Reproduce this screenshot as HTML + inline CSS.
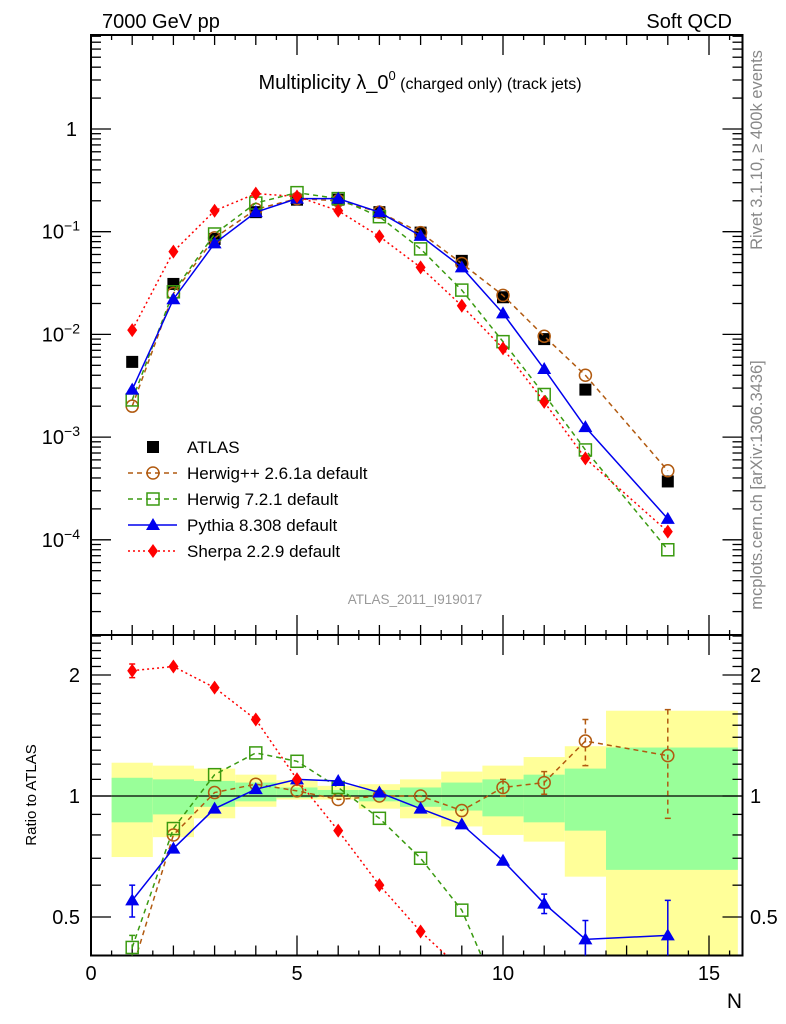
<!DOCTYPE html>
<html><head><meta charset="utf-8"><style>
html,body{margin:0;padding:0;background:#fff;width:786px;height:1024px;overflow:hidden}
svg{display:block;font-family:"Liberation Sans",sans-serif}
</style></head><body>
<svg id="c" width="786" height="1024" viewBox="0 0 786 1024">
<text x="102" y="28" font-size="20">7000 GeV pp</text>
<text x="732" y="28" font-size="20" text-anchor="end">Soft QCD</text>
<text x="420" y="89" font-size="20" text-anchor="middle">Multiplicity λ_0<tspan font-size="13" dy="-9">0</tspan><tspan font-size="16" dy="9"> (charged only) (track jets)</tspan></text>
<text transform="translate(762,150) rotate(-90)" font-size="16.5" fill="#888" text-anchor="middle">Rivet 3.1.10, ≥ 400k events</text>
<text transform="translate(762,485) rotate(-90)" font-size="16.5" fill="#888" text-anchor="middle">mcplots.cern.ch [arXiv:1306.3436]</text>
<text x="415" y="604" font-size="13.5" fill="#999" text-anchor="middle">ATLAS_2011_I919017</text>
<text transform="translate(36,795) rotate(-90)" font-size="15" text-anchor="middle">Ratio to ATLAS</text>
<text x="742" y="1008" font-size="21" text-anchor="end">N</text>
<g id="bands"></g><g id="grid"></g><g id="series"></g><g id="legend"></g>
</svg>
<script>
const xs=[1,2,3,4,5,6,7,8,9,10,11,12,14];
const atlas=[5.4e-3,0.031,0.085,0.155,0.205,0.205,0.155,0.098,0.052,0.023,0.009,0.0029,3.7e-4];
const herwigpp=[2.0e-3,0.025,0.087,0.165,0.21,0.20,0.155,0.098,0.049,0.024,0.0096,0.0040,4.7e-4];
const herwig7=[2.3e-3,0.026,0.095,0.19,0.24,0.21,0.14,0.068,0.027,0.0085,0.0026,7.5e-4,8e-5];
const pythia=[2.9e-3,0.022,0.077,0.155,0.21,0.21,0.155,0.091,0.045,0.016,0.0046,0.00125,1.6e-4];
const sherpa=[0.011,0.064,0.16,0.235,0.22,0.16,0.09,0.045,0.019,0.0073,0.0022,6.2e-4,1.2e-4];
const rHerwigpp=[0.37,0.80,1.02,1.07,1.03,0.98,1.0,1.0,0.92,1.05,1.08,1.37,1.26];
const rHerwig7=[0.42,0.83,1.13,1.28,1.22,1.05,0.88,0.70,0.52,0.3,0.3,0.26,0.22];
const rPythia=[0.55,0.74,0.93,1.04,1.1,1.09,1.02,0.93,0.85,0.69,0.54,0.44,0.45];
const rSherpa=[2.05,2.1,1.86,1.55,1.1,0.82,0.6,0.46,0.37,0.32,0.25,0.21,0.32];
const rErrHerwigpp=[0.02,0.01,0.01,0.01,0.01,0.02,0.01,0.01,0.02,0.05,0.07,0.18,0.38];
const rErrHerwig7=[0.03,0.01,0.005,0.005,0.005,0.005,0.005,0.005,0.005,0.005,0.005,0.005,0.005];
const rErrPythia=[0.05,0.01,0.005,0.005,0.005,0.005,0.005,0.005,0.01,0.015,0.03,0.05,0.1];
const rErrSherpa=[0.08,0.01,0.005,0.005,0.005,0.005,0.005,0.005,0.005,0.005,0.005,0.005,0.005];
const binEdges=[0.5,1.5,2.5,3.5,4.5,5.5,6.5,7.5,8.5,9.5,10.5,11.5,12.5,15.7];
const yellowHi=[1.21,1.19,1.17,1.13,1.095,1.06,1.07,1.10,1.15,1.19,1.25,1.33,1.63];
const yellowLo=[0.705,0.79,0.88,0.94,0.98,0.98,0.93,0.88,0.84,0.80,0.77,0.63,0.40];
const greenHi=[1.11,1.10,1.09,1.08,1.05,1.035,1.035,1.05,1.08,1.10,1.13,1.17,1.32];
const greenLo=[0.86,0.90,0.94,0.97,0.99,1.0,0.97,0.94,0.92,0.89,0.86,0.82,0.655];
const xTicks=[0,5,10,15];
const upTicks=[0,-1,-2,-3,-4];
const rTicks=[0.5,1,2];

const NS='http://www.w3.org/2000/svg';
const L=91,R=742.5,T1=35,B1=635,B2=955.5;
const X=v=>L+v*41.2;
const Y1=v=>129-Math.log10(v)*102.7;
const Y2=v=>796-Math.log2(v)*121;
function mk(p,tag,at){const e=document.createElementNS(NS,tag);for(const k in at)e.setAttribute(k,at[k]);p.appendChild(e);return e;}
const svg=document.getElementById('c');
const gB=document.getElementById('bands'),gG=document.getElementById('grid'),gS=document.getElementById('series'),gL=document.getElementById('legend');
const defs=mk(svg,'defs',{});
const c1=mk(defs,'clipPath',{id:'cp1'});mk(c1,'rect',{x:L,y:T1,width:R-L,height:B1-T1});
const c2=mk(defs,'clipPath',{id:'cp2'});mk(c2,'rect',{x:L,y:B1,width:R-L,height:B2-B1});
for(let i=0;i<yellowHi.length;i++){
 const y=mk(gB,'rect',{x:X(binEdges[i]),y:Y2(yellowHi[i]),width:X(binEdges[i+1])-X(binEdges[i]),height:Y2(yellowLo[i])-Y2(yellowHi[i]),fill:'#ffff99'});
 
 
 const g=mk(gB,'rect',{x:X(binEdges[i]),y:Y2(greenHi[i]),width:X(binEdges[i+1])-X(binEdges[i]),height:Y2(greenLo[i])-Y2(greenHi[i]),fill:'#99ff99'});
 
 
}
gB.setAttribute('clip-path','url(#cp2)');
mk(gG,'line',{x1:L,x2:R,y1:796,y2:796,stroke:'#000','stroke-width':1.3});
const f1=mk(gG,'rect',{x:L,y:T1,width:R-L,height:B1-T1,fill:'none',stroke:'#000','stroke-width':2});


const f2=mk(gG,'rect',{x:L,y:B1,width:R-L,height:B2-B1,fill:'none',stroke:'#000','stroke-width':2});


for(let v=0;v<=15.5;v+=0.5){const big=v%5===0;const len=big?20:(v%1===0?10:5);
 for(const [yt,yb] of [[T1,B1],[B1,B2]]){
  mk(gG,'line',{x1:X(v),x2:X(v),y1:yt,y2:yt+len,stroke:'#000','stroke-width':1.3});
  mk(gG,'line',{x1:X(v),x2:X(v),y1:yb,y2:yb-len,stroke:'#000','stroke-width':1.3});
 }}
xTicks.forEach(v=>{const t=mk(gG,'text',{x:X(v),y:980,'font-size':20,'text-anchor':'middle'});t.textContent=v;
 
 });
for(let d=0;d>=-5;d--){for(let m=1;m<10;m++){const v=m*Math.pow(10,d);const y=Y1(v);if(y<T1||y>B1)continue;const len=m===1?20:10;
 mk(gG,'line',{x1:L,x2:L+len,y1:y,y2:y,stroke:'#000','stroke-width':1.3});
 mk(gG,'line',{x1:R,x2:R-len,y1:y,y2:y,stroke:'#000','stroke-width':1.3});}}
upTicks.forEach(d=>{const t=mk(gG,'text',{x:d===0?77:80,y:Y1(Math.pow(10,d))+7,'font-size':20,'text-anchor':'end'});
 if(d===0)t.textContent='1';else{t.textContent='10';const s=mk(t,'tspan',{dy:-8,'font-size':14});s.textContent='−'+(-d);}
 
 });
for(let v=0.4;v<=2.55;v+=0.1){const y=Y2(v);if(y<B1||y>B2)continue;const big=[0.5,1,2].some(b=>Math.abs(b-v)<1e-6);const len=big?20:10;
 mk(gG,'line',{x1:L,x2:L+len,y1:y,y2:y,stroke:'#000','stroke-width':1.3});
 mk(gG,'line',{x1:R,x2:R-len,y1:y,y2:y,stroke:'#000','stroke-width':1.3});}
rTicks.forEach(v=>{for(const [x,a] of [[80,'end'],[750,'start']]){const t=mk(gG,'text',{x:x,y:Y2(v)+7,'font-size':20,'text-anchor':a});t.textContent=v;
 
 }});
function marker(p,type,x,y,col){
 if(type==='sq')return mk(p,'rect',{x:x-6,y:y-6,width:12,height:12,fill:'#000'});
 if(type==='circ')return mk(p,'circle',{cx:x,cy:y,r:6,fill:'none',stroke:col,'stroke-width':1.5});
 if(type==='osq')return mk(p,'rect',{x:x-6,y:y-6,width:12,height:12,fill:'none',stroke:col,'stroke-width':1.5});
 if(type==='tri')return mk(p,'polygon',{points:`${x},${y-7} ${x-7},${y+5} ${x+7},${y+5}`,fill:col});
 return mk(p,'polygon',{points:`${x},${y-7} ${x-5},${y} ${x},${y+7} ${x+5},${y}`,fill:col});
}
const defsS=[
 {name:'herwigpp',v:herwigpp,r:rHerwigpp,e:rErrHerwigpp,col:'#b15a10',dash:'5,4',m:'circ',w:1.5},
 {name:'herwig7',v:herwig7,r:rHerwig7,e:rErrHerwig7,col:'#3a9a10',dash:'5,4',m:'osq',w:1.5},
 {name:'pythia',v:pythia,r:rPythia,e:rErrPythia,col:'#0000ee',dash:'',m:'tri',w:1.5},
 {name:'sherpa',v:sherpa,r:rSherpa,e:rErrSherpa,col:'#ff0000',dash:'2,3',m:'dia',w:1.5}];
const gA=mk(gS,'g',{'clip-path':'url(#cp1)'});
xs.forEach((x,i)=>{const m=marker(gA,'sq',X(x),Y1(atlas[i]));
 
 });
defsS.forEach(s=>{
 const g1=mk(gS,'g',{'clip-path':'url(#cp1)'});
 const l1=mk(g1,'polyline',{points:xs.map((x,i)=>X(x)+','+Y1(s.v[i])).join(' '),fill:'none',stroke:s.col,'stroke-width':s.w,'stroke-dasharray':s.dash});
 
 
 xs.forEach((x,i)=>{const m=marker(g1,s.m,X(x),Y1(s.v[i]),s.col);
  
  });
 const g2=mk(gS,'g',{'clip-path':'url(#cp2)'});
 const l2=mk(g2,'polyline',{points:xs.map((x,i)=>X(x)+','+Y2(s.r[i])).join(' '),fill:'none',stroke:s.col,'stroke-width':s.w,'stroke-dasharray':s.dash});
 
 
 xs.forEach((x,i)=>{
  const yh=Y2(s.r[i]+s.e[i]),yl=Y2(Math.max(0.05,s.r[i]-s.e[i]));
  if(yl-yh>8){mk(g2,'line',{x1:X(x),x2:X(x),y1:yh,y2:yl,stroke:s.col,'stroke-width':1.5,'stroke-dasharray':s.dash});
   mk(g2,'line',{x1:X(x)-3,x2:X(x)+3,y1:yh,y2:yh,stroke:s.col,'stroke-width':1.5});
   mk(g2,'line',{x1:X(x)-3,x2:X(x)+3,y1:yl,y2:yl,stroke:s.col,'stroke-width':1.5});}
  const m=marker(g2,s.m,X(x),Y2(s.r[i]),s.col);
  
  });
});
const leg=[['ATLAS','sq','#000',''],['Herwig++ 2.6.1a default','circ','#b15a10','5,4'],['Herwig 7.2.1 default','osq','#3a9a10','5,4'],['Pythia 8.308 default','tri','#0000ee',''],['Sherpa 2.2.9 default','dia','#ff0000','2,3']];
leg.forEach((e,i)=>{const y=447+i*26;const g=mk(gL,'g',{});
 
 
 if(i>0)mk(g,'line',{x1:128,x2:177,y1:y,y2:y,stroke:e[2],'stroke-width':1.5,'stroke-dasharray':e[3]});
 marker(g,e[1],153,y,e[2]);
 const t=mk(g,'text',{x:187,y:y+6,'font-size':17});t.textContent=e[0];});
</script>
</body></html>
